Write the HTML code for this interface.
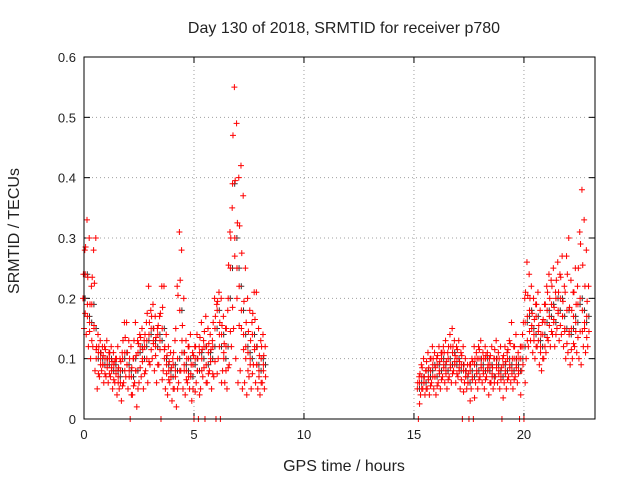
<!DOCTYPE html>
<html><head><meta charset="utf-8"><style>
body{margin:0;background:#fff}
svg text{font-family:"Liberation Sans",Arial,sans-serif;font-size:13px;fill:#222}
svg text.big{font-size:16px}
</style></head><body>
<svg id="chart" width="640" height="480" xmlns="http://www.w3.org/2000/svg">
<rect width="640" height="480" fill="#fff"/>
<text class="big" x="344" y="33" text-anchor="middle">Day 130 of 2018, SRMTID for receiver p780</text>
<text class="big" x="344" y="471" text-anchor="middle">GPS time / hours</text>
<text class="big" transform="translate(19,231) rotate(-90)" text-anchor="middle">SRMTID / TECUs</text>
<g id="grid"></g>
<g id="ticks"></g>
<g id="marks"></g>
<rect x="84" y="57" width="511" height="362" fill="none" stroke="#000" stroke-width="1"/>
</svg>
<script>
const xTicks=[0,5,10,15,20];
const yTicks=[0,0.1,0.2,0.3,0.4,0.5,0.6];
const yTickLabels=["0","0.1","0.2","0.3","0.4","0.5","0.6"];
const times=[0.0,0.1,0.2,0.3,0.4,0.5,0.6,0.7,0.8,0.9,1.0,1.1,1.2,1.3,1.4,1.5,1.6,1.7,1.8,1.9,2.0,2.1,2.2,2.3,2.4,2.5,2.6,2.7,2.8,2.9,3.0,3.1,3.2,3.3,3.4,3.5,3.6,3.7,3.8,3.9,4.0,4.1,4.2,4.3,4.4,4.5,4.6,4.7,4.8,4.9,5.0,5.1,5.2,5.3,5.4,5.5,5.6,5.7,5.8,5.9,6.0,6.1,6.2,6.3,6.4,6.5,6.6,6.7,6.8,6.9,7.0,7.1,7.2,7.3,7.4,7.5,7.6,7.7,7.8,7.9,8.0,8.1,8.2,
15.2,15.3,15.4,15.5,15.6,15.7,15.8,15.9,16.0,16.1,16.2,16.3,16.4,16.5,16.6,16.7,16.8,16.9,17.0,17.1,17.2,17.3,17.4,17.5,17.6,17.7,17.8,17.9,18.0,18.1,18.2,18.3,18.4,18.5,18.6,18.7,18.8,18.9,19.0,19.1,19.2,19.3,19.4,19.5,19.6,19.7,19.8,19.9,20.0,20.1,20.2,20.3,20.4,20.5,20.6,20.7,20.8,20.9,21.0,21.1,21.2,21.3,21.4,21.5,21.6,21.7,21.8,21.9,22.0,22.1,22.2,22.3,22.4,22.5,22.6,22.7,22.8,22.9];
const lowVals=[.15,.14,.12,.10,.12,.08,.05,.07,.08,.06,.07,.06,.07,.05,.06,.04,.05,.03,.06,.07,.05,0,.04,.06,.02,.06,.07,.05,.08,.06,.09,.10,.08,.06,.09,0,.08,.05,.04,.06,.03,.05,.02,.06,.08,.05,.04,.06,.05,.03,0,.06,0,.05,.07,0,.06,.08,.05,.07,0,.10,0,.08,.06,.05,.09,.12,.15,.10,.06,.08,.05,.06,.04,.07,.05,.09,.06,.05,.04,.06,.05,
0,.04,.05,.04,.05,.04,.06,.05,.04,.06,.05,.07,.06,.05,.07,.06,.08,.06,.07,.05,0,.06,.05,0,.05,0,.06,.05,.07,.06,.05,.07,.04,.06,.05,.07,.06,.05,0,.06,.05,.07,.06,.05,.07,.06,0,.08,0,.10,.12,.13,.11,.10,.12,.09,.08,.10,.11,.13,.12,.14,.12,.15,.13,.14,.12,.10,.11,.09,.10,.12,.11,.10,.09,.12,.11,.12];
const midVals=[.20,.24,.17,.16,.19,.15,.10,.11,.10,.09,.10,.09,.10,.08,.09,.08,.07,.08,.10,.11,.09,.08,.07,.10,.08,.11,.12,.10,.12,.13,.14,.15,.13,.12,.14,.13,.15,.10,.09,.08,.07,.09,.08,.10,.18,.11,.09,.08,.10,.07,.09,.10,.08,.11,.10,.12,.09,.11,.10,.12,.15,.18,.12,.14,.10,.12,.20,.25,.39,.30,.25,.22,.18,.14,.12,.11,.10,.14,.12,.09,.08,.10,.09,
.05,.06,.07,.06,.08,.07,.08,.09,.07,.09,.08,.10,.09,.08,.10,.09,.11,.09,.10,.08,.09,.08,.07,.06,.08,.07,.09,.08,.10,.09,.08,.10,.08,.09,.07,.10,.09,.08,.07,.09,.08,.10,.09,.08,.10,.09,.08,.10,.12,.16,.17,.18,.15,.14,.17,.13,.12,.14,.16,.18,.17,.19,.16,.20,.18,.20,.17,.15,.18,.14,.15,.17,.16,.19,.20,.18,.16,.17];
const highVals=[.28,.33,.30,.22,.28,.30,.14,.13,.12,.12,.13,.11,.12,.11,.10,.12,.10,.11,.16,.16,.13,.12,.10,.16,.13,.14,.15,.13,.16,.22,.18,.19,.17,.15,.17,.22,.22,.14,.12,.11,.10,.13,.22,.31,.28,.20,.13,.12,.14,.11,.12,.14,.12,.16,.13,.17,.15,.14,.13,.20,.19,.21,.20,.17,.15,.18,.31,.35,.55,.49,.40,.42,.37,.25,.20,.18,.16,.21,.21,.15,.13,.14,.12,
.07,.09,.10,.08,.11,.10,.12,.11,.10,.12,.11,.12,.13,.11,.14,.15,.13,.12,.13,.11,.12,.10,.09,.09,.10,.12,.11,.12,.13,.11,.12,.11,.10,.12,.10,.13,.11,.12,.10,.12,.11,.13,.16,.12,.14,.11,.12,.14,.20,.26,.24,.22,.20,.19,.21,.18,.16,.19,.22,.24,.23,.25,.21,.26,.24,.27,.22,.27,.30,.23,.21,.25,.22,.31,.38,.33,.28,.22];

const X0=84,X1=595,Y0=419,Y1=57,XMAX=23.23,YMAX=0.6;
const xs=v=>X0+v/XMAX*(X1-X0);
const ys=v=>Y0-v/YMAX*(Y0-Y1);
const NS="http://www.w3.org/2000/svg";
const grid=document.getElementById('grid'),ticks=document.getElementById('ticks'),marks=document.getElementById('marks');
function mk(tag,attrs,parent){const e=document.createElementNS(NS,tag);for(const k in attrs)e.setAttribute(k,attrs[k]);parent.appendChild(e);return e;}
xTicks.forEach(t=>{
  const x=xs(t);
  if(t>0){const g=mk('line',{x1:x,x2:x,y1:Y0,y2:Y1,stroke:'#a0a0a0','stroke-dasharray':'1,3'},grid);
  
  }
  mk('line',{x1:x,x2:x,y1:Y0,y2:Y0-6,stroke:'#000'},ticks);
  mk('line',{x1:x,x2:x,y1:Y1,y2:Y1+6,stroke:'#000'},ticks);
  const l=mk('text',{x:x,y:Y0+20,'text-anchor':'middle'},ticks);l.textContent=t;
  
  
});
yTicks.forEach((t,i)=>{
  const y=ys(t);
  if(t>0&&t<YMAX){const g=mk('line',{x1:X0,x2:X1,y1:y,y2:y,stroke:'#a0a0a0','stroke-dasharray':'1,3'},grid);
  
  }
  mk('line',{x1:X0,x2:X0+6,y1:y,y2:y,stroke:'#000'},ticks);
  mk('line',{x1:X1,x2:X1-6,y1:y,y2:y,stroke:'#000'},ticks);
  const l=mk('text',{x:X0-8,y:y+5,'text-anchor':'end'},ticks);l.textContent=yTickLabels[i];
  
  
});
function plus(t,v,color,dx){
  const x=xs(t)+dx,y=ys(v);
  const p=mk('path',{d:`M${x-3} ${y}h6M${x} ${y-3}v6`,stroke:color,'stroke-width':1,fill:'none'},marks);
  
  
}
times.forEach((t,i)=>{plus(t,midVals[i],'#333',1.1);});
times.forEach((t,i)=>{
  plus(t,lowVals[i],'#f00',0);
  plus(t,midVals[i],'#f00',-1);
  plus(t,highVals[i],'#f00',0.8);
  plus(t,(lowVals[i]+midVals[i])/2,'#f00',1.2);
  plus(t,(midVals[i]+highVals[i])/2,'#f00',-0.6);
});
</script>
</body></html>
